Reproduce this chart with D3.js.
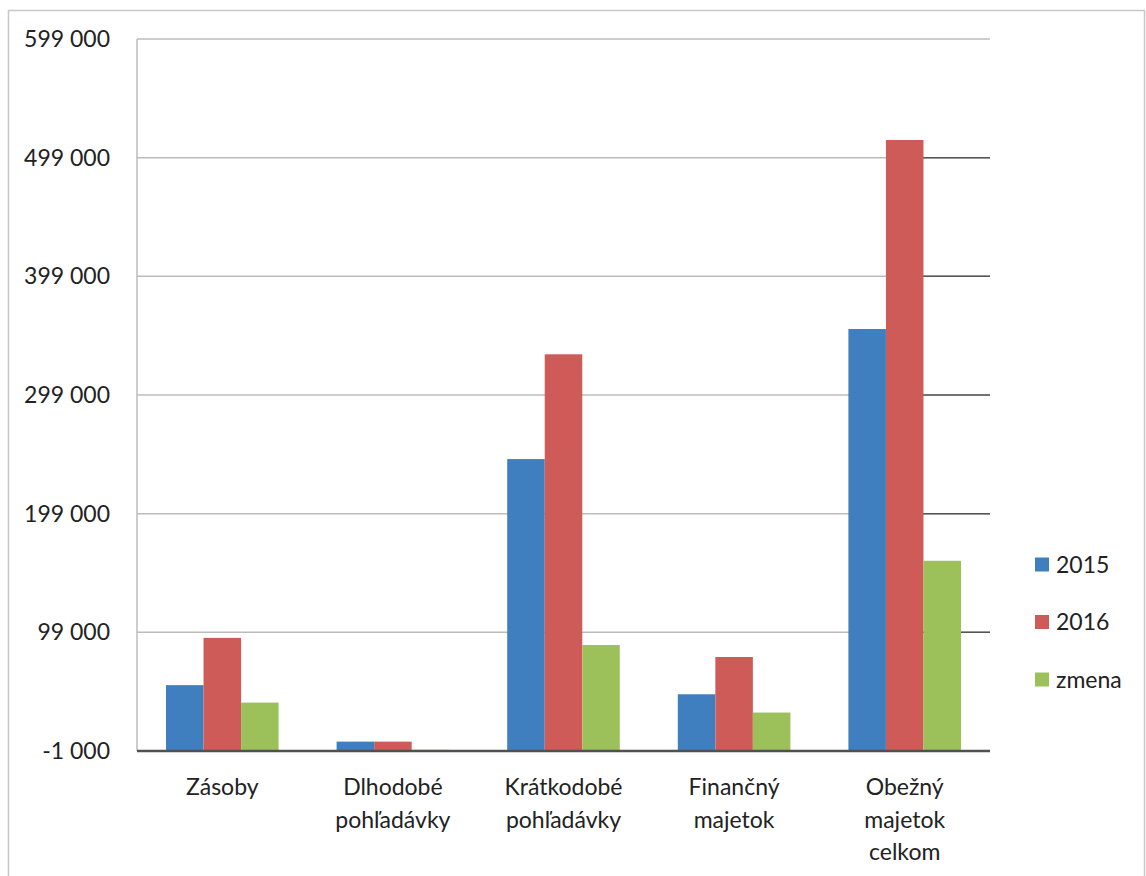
<!DOCTYPE html>
<html>
<head>
<meta charset="utf-8">
<script src="https://cdn.jsdelivr.net/npm/d3@7"></script>
<style>
  html, body { margin: 0; padding: 0; background: #fff; }
  svg { display: block; }
  text { font-family: Lato, "Open Sans", sans-serif; fill: #222; }
</style>
</head>
<body>
<svg id="chart" width="1146" height="876"></svg>
<script>
// Categories (multi-line labels) and series values
const categories = [
  ["Zásoby"],
  ["Dlhodobé", "pohľadávky"],
  ["Krátkodobé", "pohľadávky"],
  ["Finančný", "majetok"],
  ["Obežný", "majetok", "celkom"]
];
const seriesNames = ["2015", "2016", "zmena"];
const values2015  = [54500, 6900, 245000, 46800, 354600];
const values2016  = [94300, 6900, 333300, 78200, 513900];
const valuesZmena = [39800, 0, 88300, 31400, 159300];
const yTicks = [-1000, 99000, 199000, 299000, 399000, 499000, 599000];
const yTickLabels = ["-1 000", "99 000", "199 000", "299 000", "399 000", "499 000", "599 000"];
const colors = ["#3f7fc0", "#cf5b59", "#9cc15a"];

const svg = d3.select("#chart");
const W = 1146, H = 876;
const plot = { left: 137, right: 990, top: 39, bottom: 751 };

// Outer chart frame
svg.append("rect")
  .attr("x", 8.5).attr("y", 10.5)
  .attr("width", 1136).attr("height", 880)
  .attr("fill", "none").attr("stroke", "#c8c8c8").attr("stroke-width", 1.5);

const catKeys = categories.map(c => c.join(" "));
const x = d3.scaleBand().domain(catKeys).range([plot.left, plot.right]).paddingInner(0.34).paddingOuter(0.17);
const xs = d3.scaleBand().domain(seriesNames).range([0, x.bandwidth()]);
const y = d3.scaleLinear().domain([-1000, 599000]).range([plot.bottom, plot.top]);

// Gridlines (light on the left part, darker on the far right)
const darkStart = x(catKeys[4]) + x.bandwidth() / 2;
const grid = svg.append("g");
yTicks.filter(t => t !== -1000).forEach(t => {
  grid.append("line")
    .attr("x1", plot.left).attr("x2", plot.right)
    .attr("y1", y(t)).attr("y2", y(t))
    .attr("stroke", "#bcbcbc").attr("stroke-width", 1.5);
  if (t !== 599000) {
    grid.append("line")
      .attr("x1", darkStart).attr("x2", plot.right)
      .attr("y1", y(t)).attr("y2", y(t))
      .attr("stroke", "#555").attr("stroke-width", 1.5);
  }
});

// Vertical value axis line
svg.append("line")
  .attr("x1", plot.left).attr("x2", plot.left)
  .attr("y1", plot.top).attr("y2", plot.bottom)
  .attr("stroke", "#bcbcbc").attr("stroke-width", 1.5);

// Bars
const allSeries = [values2015, values2016, valuesZmena];
allSeries.forEach((vals, si) => {
  svg.append("g").selectAll("rect")
    .data(vals)
    .join("rect")
    .attr("x", (d, i) => x(catKeys[i]) + xs(seriesNames[si]))
    .attr("width", xs.bandwidth())
    .attr("y", d => y(d))
    .attr("height", d => y(-1000) - y(d))
    .attr("fill", colors[si]);
});

// Category axis baseline
svg.append("line")
  .attr("x1", plot.left).attr("x2", plot.right)
  .attr("y1", plot.bottom).attr("y2", plot.bottom)
  .attr("stroke", "#505050").attr("stroke-width", 2.5);

// Y tick labels
const yAxis = d3.axisLeft(y).tickValues(yTicks)
  .tickFormat((d, i) => yTickLabels[i]).tickSize(0).tickPadding(27);
const yg = svg.append("g").attr("transform", `translate(${plot.left},0)`).call(yAxis);
yg.select(".domain").remove();
yg.selectAll("text").style("font-size", "23px").style("font-family", "Lato, sans-serif").attr("fill", "#222");

// Category labels
categories.forEach((lines, i) => {
  const cx = x(catKeys[i]) + x.bandwidth() / 2;
  const t = svg.append("text")
    .attr("x", cx).attr("y", 795)
    .attr("text-anchor", "middle")
    .style("font-size", "23px");
  lines.forEach((ln, j) => {
    t.append("tspan").attr("x", cx).attr("y", 795 + j * 32.5).text(ln);
  });
});

// Legend
const legend = svg.append("g");
seriesNames.forEach((name, i) => {
  const cy = 564.5 + i * 57.5;
  legend.append("rect")
    .attr("x", 1035).attr("y", cy - 7)
    .attr("width", 14).attr("height", 14)
    .attr("fill", colors[i]);
  legend.append("text")
    .attr("x", 1056).attr("y", cy + 8)
    .style("font-size", "23px")
    .text(name);
});
</script>
</body>
</html>
